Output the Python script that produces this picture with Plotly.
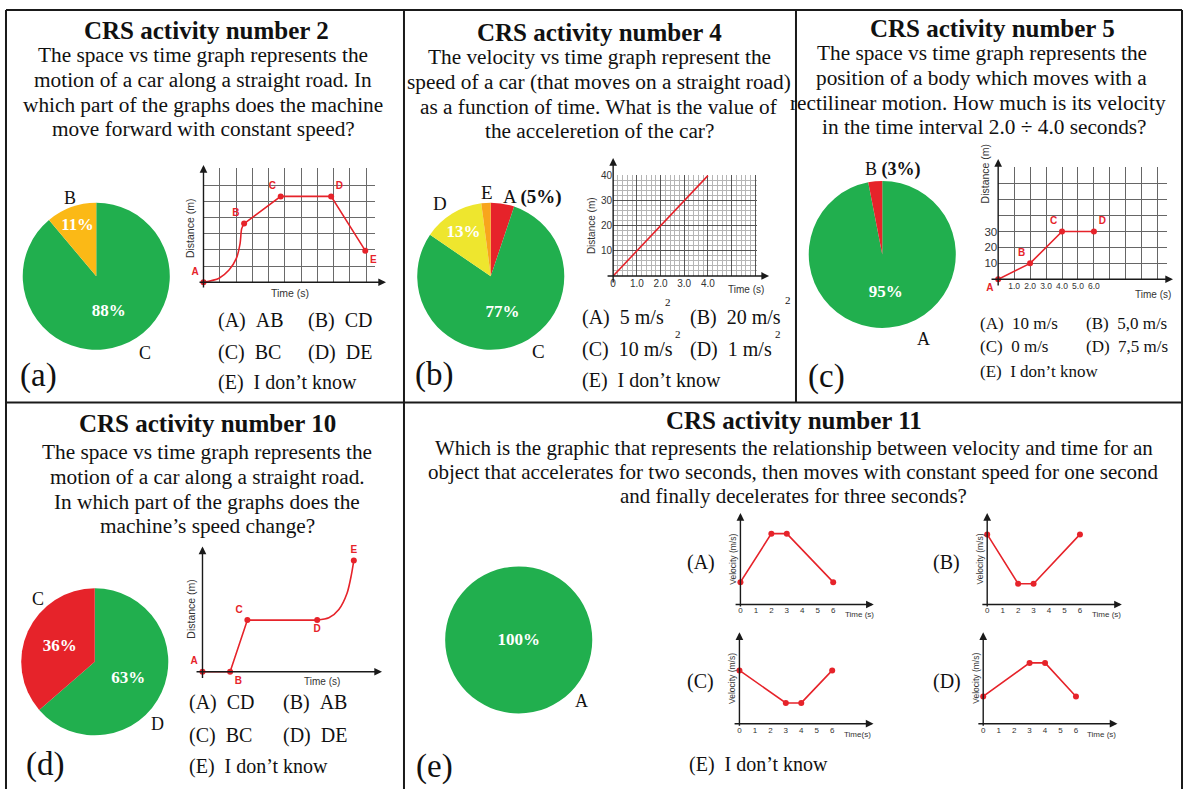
import plotly.graph_objects as go

W, H = 1184, 789
SERIF = "Liberation Serif, Times New Roman, serif"
SANS = "Liberation Sans, Arial, sans-serif"
GREEN = "#21AF4E"
RED = "#E6232A"
GOLD = "#FBB916"
LEMON = "#EEE62E"
ORANGE = "#F8A51C"
INK = "#111111"
GRAY = "#333333"

# ---------------- data ----------------
titles = ["CRS activity number 2", "CRS activity number 4", "CRS activity number 5",
          "CRS activity number 10", "CRS activity number 11"]
q_a = ["The space vs time graph represents the", "motion of a car along a straight road. In",
       "which part of the graphs does the machine", "move forward with constant speed?"]
q_b = ["The velocity vs time graph represent the", "speed of a car (that moves on a straight road)",
       "as a function of time. What is the value of", "the acceleretion of the car?"]
q_c = ["The space vs time graph represents the", "position of a body which moves with a",
       "rectilinear motion. How much is its velocity", "in the time interval 2.0 \u00f7 4.0 seconds?"]
q_c_centers = [981, 981, 977, 984]
q_d = ["The space vs time graph represents the", "motion of a car along a straight road.",
       "In which part of the graphs does the", "machine\u2019s speed change?"]
q_e = ["Which is the graphic that represents the relationship between velocity and time for an",
       "object that accelerates for two seconds, then moves with constant speed for one second",
       "and finally decelerates for three seconds?"]

opt_a = ["(A)\u00a0\u00a0AB", "(B)\u00a0\u00a0CD", "(C)\u00a0\u00a0BC", "(D)\u00a0\u00a0DE", "(E)\u00a0\u00a0I don\u2019t know"]
opt_b = ["(A)\u00a0\u00a05 m/s", "(B)\u00a0\u00a020 m/s", "(C)\u00a0\u00a010 m/s", "(D)\u00a0\u00a01 m/s", "(E)\u00a0\u00a0I don\u2019t know"]
opt_c = ["(A)\u00a0\u00a010 m/s", "(B)\u00a0\u00a05,0 m/s", "(C)\u00a0\u00a00 m/s", "(D)\u00a0\u00a07,5 m/s", "(E)\u00a0\u00a0I don\u2019t know"]
opt_d = ["(A)\u00a0\u00a0CD", "(B)\u00a0\u00a0AB", "(C)\u00a0\u00a0BC", "(D)\u00a0\u00a0DE", "(E)\u00a0\u00a0I don\u2019t know"]
opt_e = "(E)\u00a0\u00a0I don\u2019t know"

# pies (listed clockwise from 12 o'clock)
pie_a_labels = ["C", "B"]
pie_a_values = [88, 11]
pie_b_labels = ["A", "C", "D", "E"]
pie_b_values = [5, 77, 13, 2]
pie_b_inside = [False, True, True, False]
pie_c_labels = ["A", "B"]
pie_c_values = [95, 3]
pie_c_inside = [True, False]
pie_d_labels = ["D", "C"]
pie_d_values = [63, 36]
pie_e_labels = ["A"]
pie_e_values = [100]

# graph (a): distance vs time (grid units)
ga_curve_t = [0, 0.96, 1.57, 2.02, 2.25, 2.35, 2.5]
ga_curve_d = [0, 0.25, 0.75, 1.47, 2.39, 3.31, 3.62]
ga_pt_t = [0, 2.5, 4.75, 7.85, 9.95]
ga_pt_d = [0, 3.62, 5.3, 5.3, 1.95]
ga_names = ["A", "B", "C", "D", "E"]
ga_textpos = ["top left", "top left", "top left", "top right", "bottom right"]

# graph (b): distance (m) vs time (s)
gb_t = [0, 4]
gb_d = [0, 40]
gb_xticks = [0, 1, 2, 3, 4, 5, 6]
gb_xtext = ["0", "1.0", "2.0", "3.0", "4.0", "", ""]
gb_yticks = [0, 10, 20, 30, 40]
gb_ytext = ["", "10", "20", "30", "40"]

# graph (c): distance (m) vs time (s)
gc_t = [0, 2, 4, 6]
gc_d = [0, 10, 30, 30]
gc_names = ["A", "B", "C", "D"]
gc_textpos = ["bottom left", "top left", "top left", "top right"]
gc_xticks = list(range(0, 11))
gc_xtext = ["", "1.0", "2.0", "3.0", "4.0", "5.0", "6.0", "", "", "", ""]
gc_yticks = [0, 10, 20, 30, 40, 50, 60, 70]
gc_ytext = ["", "10", "20", "30", "", "", "", ""]

# graph (d): distance vs time (arbitrary units)
gd_pt_t = [0, 2.77, 4.5, 11.5, 15.17]
gd_pt_d = [0, 0, 5.2, 5.2, 11.2]
gd_names = ["A", "B", "C", "D", "E"]
gd_textpos = ["top left", "bottom right", "top left", "bottom center", "top center"]
gd_curve_t = [11.5, 12.67, 13.67, 14.5, 14.93, 15.17]
gd_curve_d = [5.2, 5.43, 6.27, 7.93, 9.77, 11.2]

# graphs (e): velocity vs time
ge_ticks = [0, 1, 2, 3, 4, 5, 6]
ge_A_t = [0, 2, 3, 6]
ge_A_v = [1.45, 4.6, 4.6, 1.45]
ge_B_t = [0, 2, 3, 6]
ge_B_v = [4.55, 1.35, 1.35, 4.55]
ge_C_t = [0, 3, 4, 6]
ge_C_v = [3.46, 1.35, 1.35, 3.46]
ge_D_t = [0, 3, 4, 6]
ge_D_v = [1.77, 3.95, 3.95, 1.77]


# ---------------- helpers ----------------
def X(px):
    return px / W


def Y(py):
    return 1 - py / H


fig = go.Figure()
ann = []
shapes = []
layout_axes = {}


def text(x, y, s, size, color=INK, bold=False, anchor="center", family=SERIF, angle=0):
    if bold:
        s = "<b>" + s + "</b>"
    ann.append(dict(x=X(x), y=Y(y), xref="paper", yref="paper", text=s, showarrow=False,
                    xanchor=anchor, yanchor="middle", textangle=angle, borderpad=0,
                    font=dict(size=size, color=color, family=family)))


def base_text(x, base, s, size, **kw):
    text(x, base - 0.34 * size, s, size, **kw)


def arrow(tail, tip):
    ann.append(dict(x=X(tip[0]), y=Y(tip[1]), xref="paper", yref="paper",
                    ax=tail[0] - tip[0], ay=tail[1] - tip[1], axref="pixel", ayref="pixel",
                    showarrow=True, arrowhead=2, arrowsize=1.1, arrowwidth=1.4,
                    arrowcolor="#1a1a1a", standoff=0, text=""))


def pie(cx, cy, r, labels, values, colors, texts):
    fig.add_trace(go.Pie(labels=labels, values=values, text=texts, textinfo="text",
                         marker=dict(colors=colors, line=dict(width=0)), sort=False,
                         direction="clockwise", rotation=0,
                         domain=dict(x=[X(cx - r), X(cx + r)], y=[Y(cy + r), Y(cy - r)]),
                         textposition="inside", insidetextorientation="horizontal",
                         textfont=dict(family=SERIF, size=17, color="white", weight="bold"),
                         hoverinfo="skip", showlegend=False))


def axes(idx, ox, oy, sx, sy, xr, yr, xextra=None, yextra=None):
    xd = [X(ox + xr[0] * sx), X(ox + xr[1] * sx)]
    yd = [Y(oy - yr[0] * sy), Y(oy - yr[1] * sy)]
    xa = dict(domain=xd, range=xr, anchor="y%d" % idx, showline=False, zeroline=False,
              showgrid=False, showticklabels=False, ticks="", fixedrange=True)
    ya = dict(domain=yd, range=yr, anchor="x%d" % idx, showline=False, zeroline=False,
              showgrid=False, showticklabels=False, ticks="", fixedrange=True)
    if xextra:
        xa.update(xextra)
    if yextra:
        ya.update(yextra)
    layout_axes["xaxis%d" % idx] = xa
    layout_axes["yaxis%d" % idx] = ya


def line(idx, xs, ys, shape="linear"):
    fig.add_trace(go.Scatter(x=xs, y=ys, xaxis="x%d" % idx, yaxis="y%d" % idx, mode="lines",
                             line=dict(color=RED, width=1.6, shape=shape, smoothing=0.8),
                             hoverinfo="skip", showlegend=False))


def points(idx, xs, ys, names=None, pos=None):
    fig.add_trace(go.Scatter(x=xs, y=ys, xaxis="x%d" % idx, yaxis="y%d" % idx,
                             mode="markers+text" if names else "markers",
                             text=names, textposition=pos,
                             textfont=dict(family=SANS, size=10, color=RED, weight="bold"),
                             marker=dict(color=RED, size=6), cliponaxis=False,
                             hoverinfo="skip", showlegend=False))


# ---------------- frame ----------------
def seg(x0, y0, x1, y1):
    shapes.append(dict(type="line", xref="paper", yref="paper", x0=X(x0), y0=Y(y0), x1=X(x1), y1=Y(y1),
                       line=dict(color="#1a1a1a", width=2)))


seg(3, 5, 1182, 5)
seg(3, 5, 3, 792)
seg(1182, 5, 1182, 792)
seg(3, 400, 1182, 400)
seg(402, 5, 402, 792)
seg(795, 5, 795, 400)

# ---------------- titles & questions ----------------
base_text(204, 34.5, titles[0], 25, bold=True)
for i, s in enumerate(q_a):
    base_text(201, 57.5 + 25 * i, s, 21.3)
base_text(598, 36.5, titles[1], 25, bold=True)
for i, s in enumerate(q_b):
    base_text(598, 59.5 + 25 * i, s, 21.3)
base_text(992, 32.5, titles[2], 25, bold=True)
for i, s in enumerate(q_c):
    base_text(q_c_centers[i], 55.5 + 25 * i, s, 21.3)
base_text(205, 430, titles[3], 25, bold=True)
for i, s in enumerate(q_d):
    base_text(205, 457 + 25 * i, s, 21.3)
base_text(793, 427, titles[4], 25, bold=True)
for i, s in enumerate(q_e):
    base_text(793, 453 + 24 * i, s, 21)

# ---------------- panel letters ----------------
text(36, 373, "(a)", 33)
text(432, 372, "(b)", 33)
text(826, 374, "(c)", 33)
text(42, 764, "(d)", 33)
text(433, 766, "(e)", 33)

# ---------------- pies ----------------
pie(93.5, 273, 74, pie_a_labels, pie_a_values, [GREEN, GOLD],
    ["%d%%" % v for v in pie_a_values])
pie(489, 273, 74, pie_b_labels, pie_b_values, [RED, GREEN, LEMON, ORANGE],
    ["%d%%" % v if s else "" for v, s in zip(pie_b_values, pie_b_inside)])
pie(881.5, 251, 74, pie_c_labels, pie_c_values, [GREEN, RED],
    ["%d%%" % v if s else "" for v, s in zip(pie_c_values, pie_c_inside)])
pie(92, 661, 74, pie_d_labels, pie_d_values, [GREEN, RED],
    ["%d%%" % v for v in pie_d_values])
pie(517, 639, 74, pie_e_labels, pie_e_values, [GREEN],
    ["%d%%" % v for v in pie_e_values])

# outside pie labels
text(67.5, 194, pie_a_labels[1], 18)
text(142.5, 350, pie_a_labels[0], 18)
text(500, 193, pie_b_labels[0] + " <b>(%d%%)</b>" % pie_b_values[0], 19, anchor="left")
text(536.7, 348.5, pie_b_labels[1], 19)
text(438.3, 200, pie_b_labels[2], 19)
text(485, 188.5, pie_b_labels[3], 19)
text(863, 165.5, pie_c_labels[1] + " <b>(%d%%)</b>" % pie_c_values[1], 18, anchor="left")
text(922.5, 336, pie_c_labels[0], 18)
text(35, 597.5, pie_d_labels[1], 18)
text(155, 723.5, pie_d_labels[0], 18)
text(580, 700.5, pie_e_labels[0], 18)

# ---------------- graph (a) ----------------
axes(2, 201, 279, 16.3, 16.3, [-0.06, 10.55], [-0.06, 7.05],
     dict(showgrid=True, dtick=1, tick0=0, gridcolor="#6a6a6a", gridwidth=1),
     dict(showgrid=True, dtick=1, tick0=0, gridcolor="#6a6a6a", gridwidth=1))
line(2, ga_curve_t, ga_curve_d, "spline")
line(2, ga_pt_t[1:], ga_pt_d[1:])
points(2, ga_pt_t, ga_pt_d, ga_names, ga_textpos)
arrow((201, 285), (201, 161))
arrow((196, 279), (384, 279))
text(187, 225, "Distance (m)", 10.5, color=GRAY, family=SANS, angle=-90)
text(288, 290, "Time (s)", 10.5, color=GRAY, family=SANS)

# ---------------- graph (b) ----------------
axes(3, 611.7, 272.7, 23.75, 2.525, [0, 6.08], [0, 40.3],
     dict(showgrid=True, tickmode="array", tickvals=gb_xticks, ticktext=gb_xtext,
          gridcolor="#555", gridwidth=1, showticklabels=True,
          tickfont=dict(family=SANS, size=10, color=GRAY),
          minor=dict(dtick=0.2, tick0=0, showgrid=True, gridcolor="#b5b5b5", gridwidth=0.6)),
     dict(showgrid=True, tickmode="array", tickvals=gb_yticks, ticktext=gb_ytext,
          gridcolor="#555", gridwidth=1, showticklabels=True,
          tickfont=dict(family=SANS, size=10, color=GRAY),
          minor=dict(dtick=2, tick0=0, showgrid=True, gridcolor="#b5b5b5", gridwidth=0.6)))
line(3, gb_t, gb_d)
arrow((611.7, 280), (611.7, 154))
arrow((605, 272.7), (768, 272.7))
text(590, 222, "Distance (m)", 10, color=GRAY, family=SANS, angle=-90)
text(745, 286, "Time (s)", 10, color=GRAY, family=SANS)

# ---------------- graph (c) ----------------
axes(4, 997.7, 276, 16, 1.6, [0, 10.6], [0, 70.5],
     dict(showgrid=True, tickmode="array", tickvals=gc_xticks, ticktext=gc_xtext,
          gridcolor="#666", gridwidth=1, showticklabels=True,
          tickfont=dict(family=SANS, size=8.5, color=GRAY)),
     dict(showgrid=True, tickmode="array", tickvals=gc_yticks, ticktext=gc_ytext,
          gridcolor="#666", gridwidth=1, showticklabels=True,
          tickfont=dict(family=SANS, size=11.5, color=GRAY)))
line(4, gc_t, gc_d)
points(4, gc_t, gc_d, gc_names, gc_textpos)
arrow((997.7, 283), (997.7, 155))
arrow((990, 276), (1173, 276))
text(984, 170, "Distance (m)", 10.5, color=GRAY, family=SANS, angle=-90)
text(1153, 291, "Time (s)", 10, color=GRAY, family=SANS)

# ---------------- graph (d) ----------------
axes(5, 200, 671, 10, 10, [-0.2, 18], [-0.3, 12.6])
line(5, gd_pt_t[:4], gd_pt_d[:4])
line(5, gd_curve_t, gd_curve_d, "spline")
points(5, gd_pt_t, gd_pt_d, gd_names, gd_textpos)
arrow((200, 678), (200, 545))
arrow((193, 671), (380, 671))
text(189, 608, "Distance (m)", 10.5, color=GRAY, family=SANS, angle=-90)
text(320, 681, "Time (s)", 10, color=GRAY, family=SANS)

# ---------------- graphs (e) ----------------
e_graphs = [
    (6, 739.3, 603.3, 873, ge_A_t, ge_A_v, "(A)", 700, 561, "Time (s)", 859, 613.3),
    (7, 986.7, 603.3, 1121.7, ge_B_t, ge_B_v, "(B)", 946, 561, "Time (s)", 1106, 613.3),
    (8, 738.3, 723.3, 872.7, ge_C_t, ge_C_v, "(C)", 699, 681, "Time(s)", 857, 734.3),
    (9, 982.7, 723.3, 1117.3, ge_D_t, ge_D_v, "(D)", 946, 681, "Time (s)", 1101.7, 734.3),
]
for idx, ox, oy, xtip, ts, vs, lab, lx, ly, tlab, tx, ty in e_graphs:
    axes(idx, ox, oy, 15.5, 15.5, [0, 6.6], [0, 5.9],
         dict(tickmode="array", tickvals=ge_ticks, ticktext=[str(t) for t in ge_ticks],
              showticklabels=True, tickfont=dict(family=SANS, size=8, color=GRAY)))
    line(idx, ts, vs)
    points(idx, ts, vs)
    arrow((ox, oy + 3), (ox, oy - 92))
    arrow((ox - 6, oy), (xtip, oy))
    text(ox - 7.5, oy - 46, "Velocity (m/s)", 8.5, color=GRAY, family=SANS, angle=-90)
    text(tx, ty, tlab, 8, color=GRAY, family=SANS)
    text(lx, ly, lab, 20)

# ---------------- answer options ----------------
rows_a = [318, 350, 380]
text(215, rows_a[0], opt_a[0], 20, anchor="left")
text(305, rows_a[0], opt_a[1], 20, anchor="left")
text(215, rows_a[1], opt_a[2], 20, anchor="left")
text(305, rows_a[1], opt_a[3], 20, anchor="left")
text(215, rows_a[2], opt_a[4], 20, anchor="left")

rows_b = [314, 347, 378]
text(579, rows_b[0], opt_b[0], 20, anchor="left")
text(688, rows_b[0], opt_b[1], 20, anchor="left")
text(579, rows_b[1], opt_b[2], 20, anchor="left")
text(688, rows_b[1], opt_b[3], 20, anchor="left")
text(579, rows_b[2], opt_b[4], 20, anchor="left")
for sx, sy in [(667, 299), (787, 297), (677, 331), (777, 331)]:
    text(sx, sy, "2", 11)

rows_c = [320.5, 343.5, 368.5]
text(978, rows_c[0], opt_c[0], 17, anchor="left")
text(1085, rows_c[0], opt_c[1], 17, anchor="left")
text(978, rows_c[1], opt_c[2], 17, anchor="left")
text(1085, rows_c[1], opt_c[3], 17, anchor="left")
text(978, rows_c[2], opt_c[4], 17, anchor="left")

rows_d = [702, 735, 766]
text(185, rows_d[0], opt_d[0], 20, anchor="left")
text(280, rows_d[0], opt_d[1], 20, anchor="left")
text(185, rows_d[1], opt_d[2], 20, anchor="left")
text(280, rows_d[1], opt_d[3], 20, anchor="left")
text(185, rows_d[2], opt_d[4], 20, anchor="left")

text(686.7, 764, opt_e, 20, anchor="left")

fig.update_layout(
    width=W, height=H, margin=dict(l=0, r=0, t=0, b=0),
    paper_bgcolor="white", plot_bgcolor="rgba(0,0,0,0)",
    annotations=ann, shapes=shapes, showlegend=False,
    xaxis=dict(visible=False), yaxis=dict(visible=False),
    **layout_axes,
)
fig.write_html("out.html", config={"displayModeBar": False},
               post_script="document.body.style.margin='0px';document.body.style.overflow='hidden';")
